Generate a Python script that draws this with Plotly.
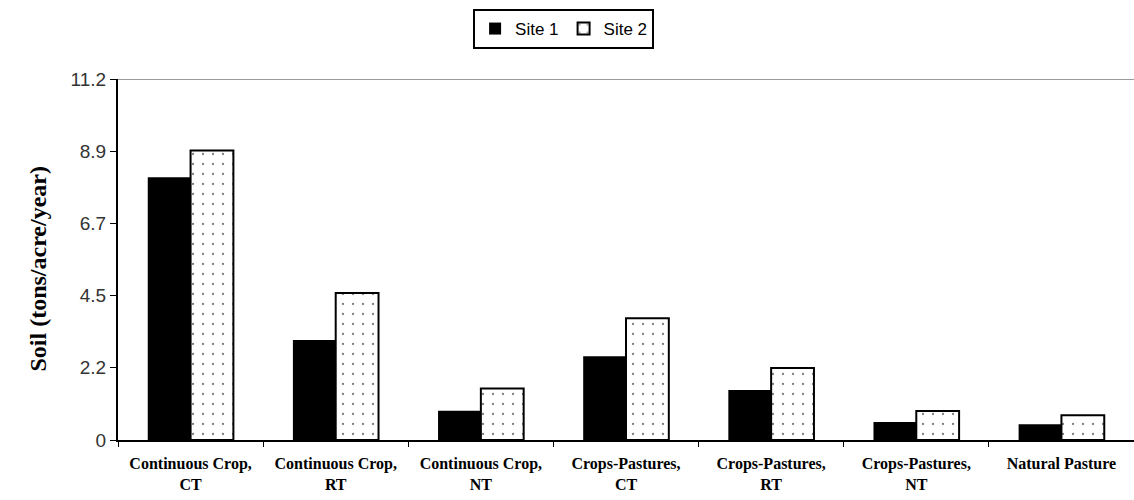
import plotly.graph_objects as go

# Soil loss by management system at two sites
categories = [
    "Continuous Crop,<br>CT",
    "Continuous Crop,<br>RT",
    "Continuous Crop,<br>NT",
    "Crops-Pastures,<br>CT",
    "Crops-Pastures,<br>RT",
    "Crops-Pastures,<br>NT",
    "Natural Pasture",
]
site1 = [8.15, 3.10, 0.91, 2.60, 1.55, 0.56, 0.49]
site2 = [8.98, 4.56, 1.60, 3.78, 2.23, 0.90, 0.77]

y_max = 11.2
y_tick_vals = [0, 2.24, 4.48, 6.72, 8.96, 11.2]
y_tick_text = ["0", "2.2", "4.5", "6.7", "8.9", "11.2"]

fig = go.Figure()
fig.add_trace(go.Bar(
    name="Site 1", x=categories, y=site1,
    marker=dict(color="black", line=dict(width=0)),
))
fig.add_trace(go.Bar(
    name="Site 2", x=categories, y=site2,
    marker=dict(
        color="white",
        line=dict(color="black", width=2),
        pattern=dict(shape=".", fgcolor="black", bgcolor="white",
                     size=10, solidity=0.04, fillmode="overlay"),
    ),
))

# light rule along the top of the plot area
fig.add_shape(type="line", xref="paper", yref="y", x0=0, x1=1,
              y0=y_max, y1=y_max, line=dict(color="#9a9a9a", width=2))

fig.add_annotation(
    text="Soil (tons/acre/year)", textangle=-90,
    xref="paper", yref="paper", x=-0.0935, y=0.475,
    showarrow=False,
    font=dict(family="Liberation Serif", size=24, color="black", weight="bold"),
)

fig.update_layout(
    width=1134, height=500,
    margin=dict(l=118, r=0, t=79, b=60),
    plot_bgcolor="white", paper_bgcolor="white",
    barmode="group", bargap=0.41, bargroupgap=0,
    showlegend=True,
    legend=dict(
        orientation="h", xref="container", yref="container",
        x=0.497, xanchor="center", y=0.982, yanchor="top",
        bordercolor="black", borderwidth=2, bgcolor="white",
        font=dict(family="Liberation Sans", size=17, color="black"),
        itemwidth=30, tracegroupgap=0,
    ),
    xaxis=dict(
        showline=True, linecolor="black", linewidth=2,
        ticks="outside", ticklen=5, tickcolor="black", tickwidth=1,
        tickson="boundaries", showgrid=False,
        tickfont=dict(family="Liberation Serif", size=16, color="black", weight="bold"),
        tickangle=0, ticklabelstandoff=8,
    ),
    yaxis=dict(
        range=[0, y_max], tickvals=y_tick_vals, ticktext=y_tick_text,
        showline=True, linecolor="black", linewidth=2,
        ticks="outside", ticklen=6, tickcolor="black",
        showgrid=False, zeroline=False,
        tickfont=dict(family="Liberation Sans", size=19, color="#333333"),
    ),
)

fig.write_html("out.html")
